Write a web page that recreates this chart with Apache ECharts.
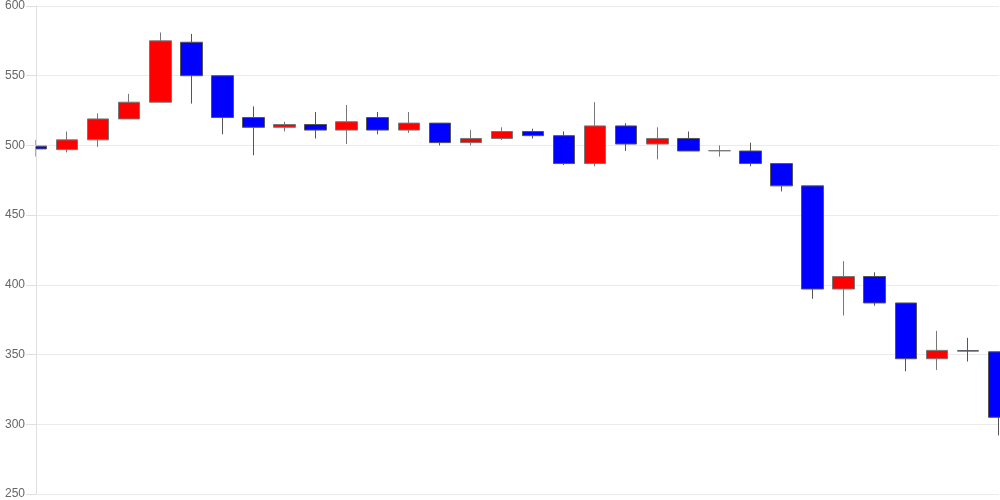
<!DOCTYPE html>
<html>
<head>
<meta charset="utf-8">
<script src="https://cdn.jsdelivr.net/npm/echarts@6/dist/echarts.min.js"></script>
<style>html,body{margin:0;padding:0;background:#fff}#c{width:1000px;height:500px}</style>
</head>
<body>
<div id="c"></div>
<script>
var categories = ['1','2','3','4','5','6','7','8','9','10','11','12','13','14','15','16','17','18','19','20','21','22','23','24','25','26','27','28','29','30','31','32'];
var opens  = [499.5, 497, 504, 519, 531, 574, 550, 520, 513, 515, 511, 520, 511, 516, 502, 505, 510, 507, 487, 514, 501, 505, 496.2, 496, 487, 471, 397, 406, 387, 347, 352.8, 352];
var closes = [497.5, 504, 519, 531, 575, 550, 520, 513, 515, 511, 517, 511, 516, 502, 505, 510, 507, 487, 514, 501, 505, 496, 496.2, 487, 471, 397, 406, 387, 347, 353, 352.5, 305];
var lows   = [492, 495, 499, 519, 531, 530, 508, 493, 510, 505, 501, 508, 509, 500, 500, 504, 505, 486, 485, 496, 490, 496, 492, 485, 467, 390, 378, 385, 338, 339, 345, 292];
var highs  = [504, 510, 523, 537, 581, 580, 550, 528, 517, 524, 529, 524, 524, 516, 511, 513, 512, 510, 531, 516, 513, 510, 500, 502, 487, 471, 417, 409, 387, 367, 362, 352];
var yTicks = [250, 300, 350, 400, 450, 500, 550, 600];

var ohlc = categories.map(function (c, i) { return [opens[i], closes[i], lows[i], highs[i]]; });

var chart = echarts.init(document.getElementById('c'));
var yMin = yTicks[0], yMax = yTicks[yTicks.length - 1];
chart.setOption({
  animation: false,
  grid: { left: 36, right: 1, top: 6, bottom: 6 },
  xAxis: {
    type: 'category',
    data: categories,
    boundaryGap: false,
    show: false
  },
  yAxis: [{
    type: 'value',
    min: yMin, max: yMax, interval: 50,
    z: 0,
    axisLine: { show: true, lineStyle: { color: '#e0e0e0' } },
    axisTick: { show: false },
    axisLabel: { show: false },
    splitLine: { lineStyle: { color: '#ebebeb' } }
  }, {
    type: 'value',
    position: 'left',
    min: yMin, max: yMax, interval: 50,
    z: 10,
    axisLine: { show: false },
    axisTick: { show: true, length: 10, lineStyle: { color: '#e0e0e0' } },
    axisLabel: { color: '#666', fontSize: 12, fontFamily: 'Liberation Sans, Arial, sans-serif', margin: 11 },
    splitLine: { show: false }
  }],
  graphic: [{
    type: 'rect',
    z: 5,
    shape: { x: 0, y: 0, width: 35.5, height: 500 },
    style: { fill: '#fff' }
  }],
  series: [{
    type: 'candlestick',
    data: ohlc,
    barWidth: 22,
    z: 2,
    itemStyle: {
      color: '#ff0000',
      color0: '#0000ff',
      borderColor: '#777',
      borderColor0: '#555',
      borderWidth: 1
    }
  }]
});
</script>
</body>
</html>
